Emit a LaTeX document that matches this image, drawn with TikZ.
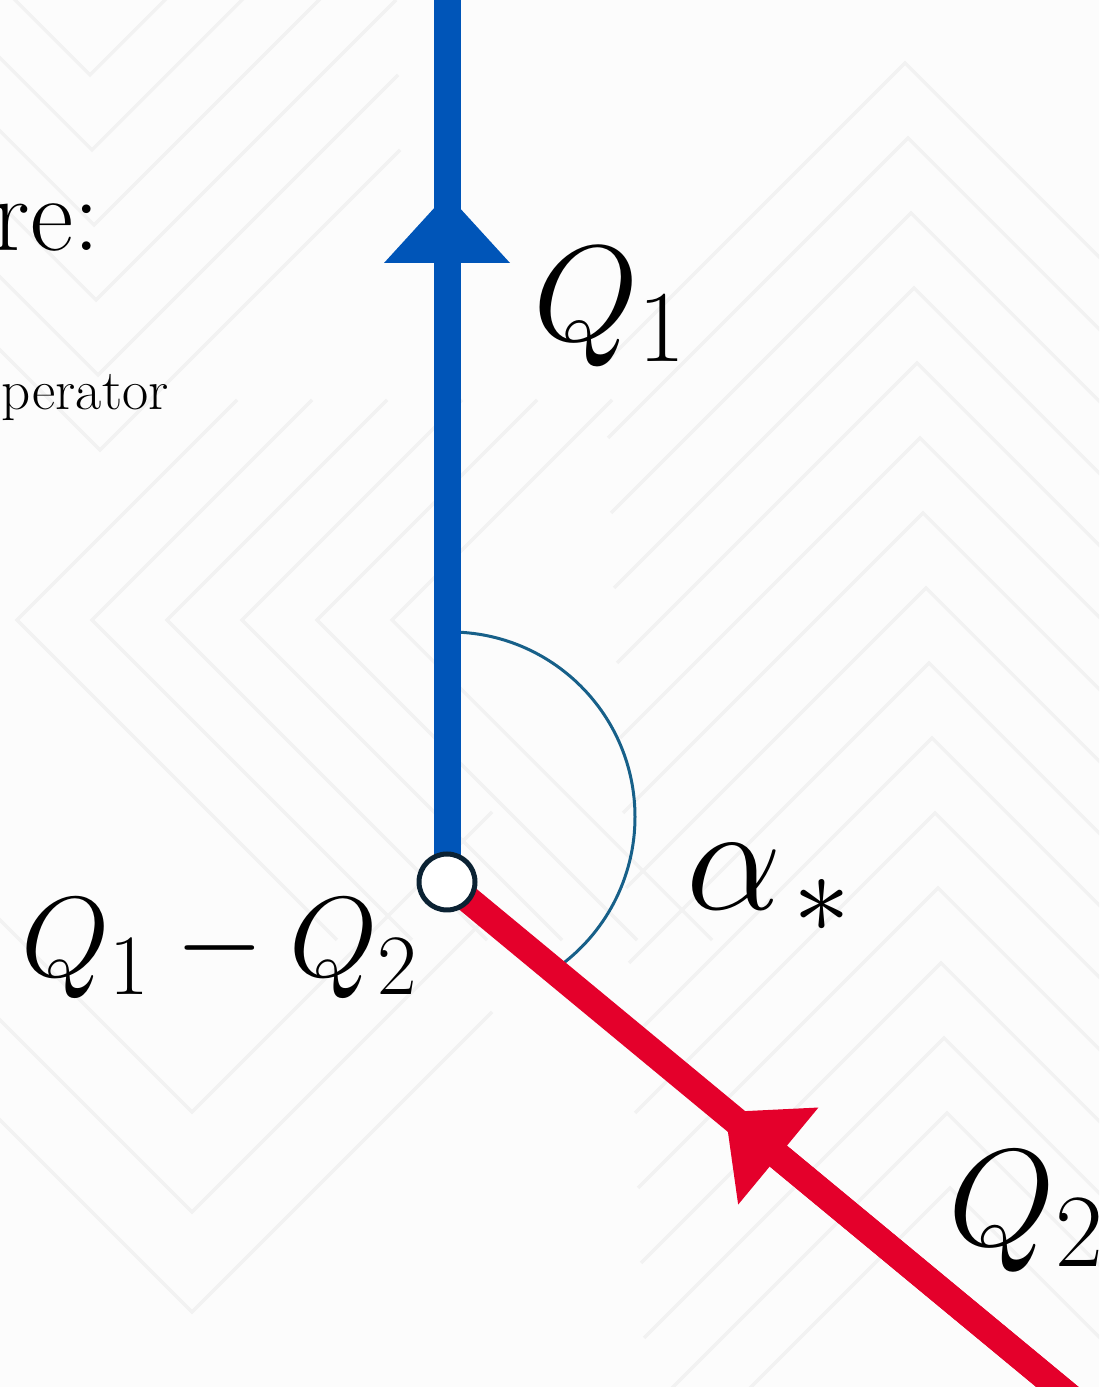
\RequirePackage{fix-cm}
\documentclass[tikz,border=0pt]{standalone}
\usetikzlibrary{arrows.meta,calc}

\DeclareMathSizes{68}{68}{51}{34}
\DeclareMathSizes{76}{76}{57}{38}
\DeclareMathSizes{57}{57}{43}{29}
\DeclareMathSizes{69}{69}{52}{35}

\definecolor{qoneblue}{HTML}{0055B8}
\definecolor{qtwored}{HTML}{E4002B}
\definecolor{arcteal}{HTML}{176089}
\definecolor{ringnavy}{HTML}{0B2233}
\definecolor{paper}{HTML}{FCFCFC}
\definecolor{chevron}{HTML}{F2F2F2}

\begin{document}
\begin{tikzpicture}[
  x=0.5pt, y=0.5pt,
  qline/.style={line width=13.5pt},
  headtip/.style={-{Triangle[length=34.5pt,width=63pt,line width=0pt]}},
  junction/.style={circle,draw=ringnavy,line width=2.5pt,fill=white,minimum size=28pt,inner sep=0pt},
  anglearc/.style={draw=arcteal,line width=1.5pt},
  chev/.style={draw=chevron,line width=1.6pt},
  lbl/.style={inner sep=0pt,text=black}]
\useasboundingbox (0,0) rectangle (1099,1387);
\clip (0,0) rectangle (1099,1387);
\fill[paper] (0,0) rectangle (1099,1387);

% faint chevron background
\foreach \k [evaluate=\k as \x using 90+2*\k, evaluate=\k as \y using 1312-75*\k] in {0,...,5}
  \draw[chev] (\x-130,\y+130) -- (\x,\y) -- (\x+300,\y+300);
\foreach \k [evaluate=\k as \x using 17+75*\k] in {0,...,5}
  \draw[chev] (\x+220,987) -- (\x,767) -- (\x+320,447);
\foreach \k [evaluate=\k as \x using 905+3*\k, evaluate=\k as \y using 1324-75*\k] in {0,...,15}
  \draw[chev] (\x-300,\y-300) -- (\x,\y) -- (\x+300,\y-300);
\foreach \k [evaluate=\k as \y using 275-100*\k] in {0,1,2}
  \draw[chev] (-8,\y+200) -- (192,\y) -- (492,\y+300);

% geometry
\coordinate (vtx) at (447,505);
\coordinate (btip) at (447,1193);
\coordinate (btop) at (447,1400);
\coordinate (rtip) at ($(vtx)+(-39.6:361)$);
\coordinate (rfar) at ($(vtx)+(-39.6:900)$);
\coordinate (arcstart) at (450,755);

\draw[anglearc] (arcstart) arc[start angle=90, end angle=-55, radius=185];

\draw[qline,qoneblue] (vtx) -- (btop);
\draw[qline,qoneblue,headtip] (vtx) -- (btip);
\draw[qline,qtwored] (rfar) -- (vtx);
\draw[qline,qtwored,headtip] (rfar) -- (rtip);

\node[junction] (jn) at (vtx) {};

% labels
\node[lbl,anchor=base west,font=\fontsize{68}{80}\selectfont] (qonelbl) at (533,1046) {$Q_1$};
\node[lbl,anchor=base west,font=\fontsize{76}{90}\selectfont] (alphalbl) at (686,477) {$\alpha_{\mkern2mu *}$};
\node[lbl,anchor=base west,font=\fontsize{57}{66}\selectfont] (difflbl) at (21,410) {$Q_1 - Q_2$};
\node[lbl,anchor=base west,font=\fontsize{69}{80}\selectfont] (qtwolbl) at (948,141) {$Q_2$};
\node[lbl,anchor=base east,font=\fontsize{53}{62}\selectfont] (retxt) at (100,1136) {re:};
\node[lbl,anchor=base east,font=\fontsize{28.5}{34}\selectfont] (optxt) at (169,977) {perator};
\end{tikzpicture}
\end{document}
